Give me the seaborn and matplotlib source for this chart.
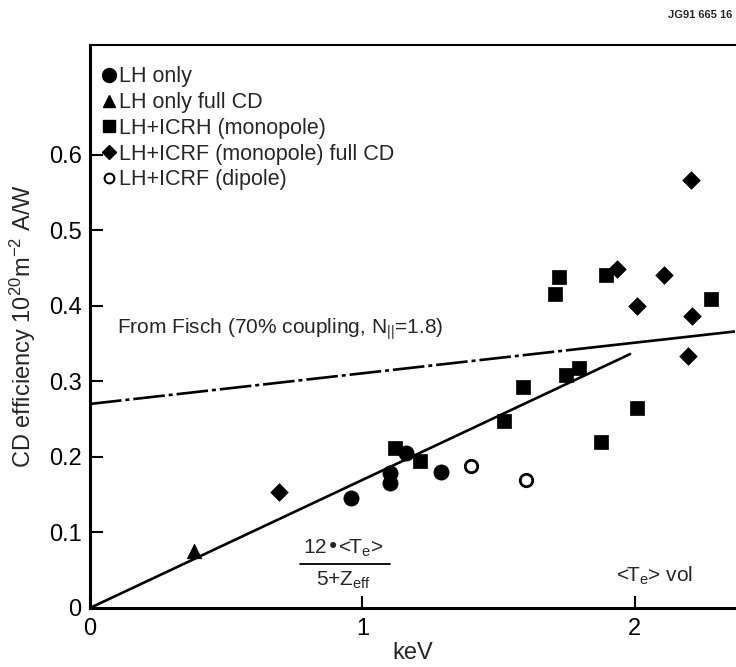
import matplotlib
matplotlib.use('Agg')
import matplotlib.pyplot as plt
from matplotlib.lines import Line2D
import numpy as np
import pandas as pd
import seaborn as sns

# valeurs (keV, efficacite CD)
lh_x = [0.96, 1.10, 1.10, 1.16, 1.29]
lh_y = [0.145, 0.178, 0.165, 0.205, 0.180]

lh_full_x = [0.38]
lh_full_y = [0.075]

icrh_x = [1.12, 1.21, 1.52, 1.59, 1.707, 1.721, 1.749, 1.794, 1.876, 1.895, 2.007, 2.279]
icrh_y = [0.212, 0.195, 0.247, 0.293, 0.416, 0.438, 0.308, 0.318, 0.220, 0.441, 0.265, 0.409]

icrf_full_x = [0.694, 1.935, 2.01, 2.107, 2.194, 2.207, 2.21]
icrf_full_y = [0.153, 0.448, 0.400, 0.440, 0.333, 0.567, 0.387]

dipole_x = [1.40, 1.60]
dipole_y = [0.188, 0.170]

# droites
fit_x = [0.0, 1.983]
fit_y = [0.0, 0.336]
fisch_dash_x = [0.0, 1.80]
fisch_dash_y = [0.270, 0.343]
fisch_solid_x = [1.80, 2.37]
fisch_solid_y = [0.343, 0.366]

labels = ['LH only', 'LH only full CD', 'LH+ICRH (monopole)',
          'LH+ICRF (monopole) full CD', 'LH+ICRF (dipole)']

df = pd.DataFrame({
    'x': lh_x + lh_full_x + icrh_x + icrf_full_x,
    'y': lh_y + lh_full_y + icrh_y + icrf_full_y,
    'grupo': [labels[0]] * len(lh_x) + [labels[1]] * len(lh_full_x)
             + [labels[2]] * len(icrh_x) + [labels[3]] * len(icrf_full_x),
})

sns.set_style('ticks')
plt.rcParams['font.family'] = ['Liberation Sans', 'DejaVu Sans']
plt.rcParams['mathtext.default'] = 'regular'

fig = plt.figure(figsize=(7.36, 6.67), dpi=100)
ax = fig.add_axes([0.1223, 0.0885, 0.877, 0.844])

sns.lineplot(x=fit_x, y=fit_y, ax=ax, color='black', lw=1.9)
sns.lineplot(x=fisch_dash_x, y=fisch_dash_y, ax=ax, color='black', lw=1.9,
             linestyle=(0, (12, 1.5, 1.5, 1.5)))
sns.lineplot(x=fisch_solid_x, y=fisch_solid_y, ax=ax, color='black', lw=1.9)

tamanhos = {labels[0]: 120, labels[1]: 110, labels[2]: 95, labels[3]: 80}
for g, m in zip(labels[:4], ['o', '^', 's', 'D']):
    sub = df[df['grupo'] == g]
    sns.scatterplot(data=sub, x='x', y='y', marker=m, s=tamanhos[g],
                    color='black', edgecolor='black', linewidth=0.5, ax=ax, zorder=3)
sns.scatterplot(x=dipole_x, y=dipole_y, marker='o', s=80, facecolor='white',
                edgecolor='black', linewidth=2.0, ax=ax, zorder=3)

ax.set_xlim(0, 2.37)
ax.set_ylim(0, 0.745)
ax.set_xticks([0, 1, 2])
ax.set_xticklabels(['0', '1', '2'])
ax.set_yticks([0, 0.1, 0.2, 0.3, 0.4, 0.5, 0.6])
ax.set_yticklabels(['0', '0.1', '0.2', '0.3', '0.4', '0.5', '0.6'])
ax.tick_params(direction='in', length=9, width=1.5, labelsize=17, pad=6, colors='black')
ax.tick_params(axis='x', pad=7)
for s in ['left', 'bottom']:
    ax.spines[s].set_linewidth(2.2)
ax.spines['top'].set_linewidth(1.5)
ax.spines['right'].set_visible(False)
for s in ['left', 'bottom', 'top']:
    ax.spines[s].set_color('black')

ax.set_xlabel('keV', fontsize=17, labelpad=2)
ax.set_ylabel('CD efficiency 10$^{20}$m$^{-2}$ A/W', fontsize=17, labelpad=8)

ax.text(0.10, 0.369, 'From Fisch (70% coupling, N$_{||}$=1.8)', fontsize=15,
        va='center', ha='left')
ax.text(0.93, 0.079, '12•<T$_e$>', fontsize=15, ha='center', va='center')
ax.plot([0.77, 1.1], [0.058, 0.058], color='black', lw=1.3)
ax.text(0.93, 0.036, '5+Z$_{eff}$', fontsize=15, ha='center', va='center')
ax.text(1.93, 0.042, '<T$_e$> vol', fontsize=15, ha='left', va='center')
fig.text(0.995, 0.985, 'JG91 665 16', fontsize=8, ha='right', va='top', fontweight='bold')

handles = [
    Line2D([], [], marker='o', color='black', ls='none', markersize=10),
    Line2D([], [], marker='^', color='black', ls='none', markersize=9),
    Line2D([], [], marker='s', color='black', ls='none', markersize=8),
    Line2D([], [], marker='D', color='black', ls='none', markersize=7),
    Line2D([], [], marker='o', color='black', markerfacecolor='white', ls='none',
           markersize=7, markeredgewidth=1.5),
]
ax.legend(handles, labels, loc='upper left', bbox_to_anchor=(0.0, 0.985), frameon=False,
          fontsize=15.5, handlelength=0.6, handletextpad=0.15, labelspacing=0.22,
          borderaxespad=0.2)

fig.savefig('out.png', dpi=100)
